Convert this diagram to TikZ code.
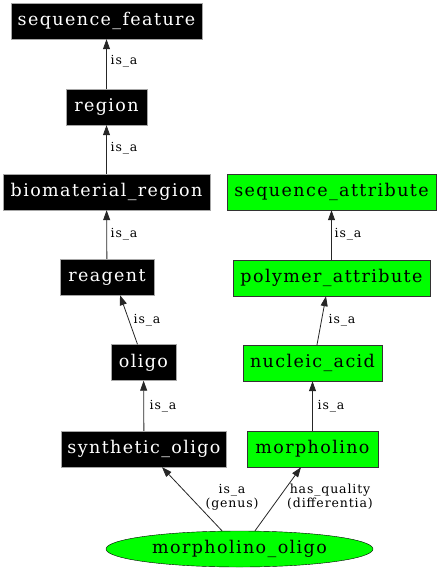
\documentclass[tikz,border=0pt]{standalone}
\usepackage{fontspec}
\setmainfont{DejaVu Serif}
\newfontfamily\gvfont[LetterSpace=8]{DejaVu Serif}
\newfontfamily\gvlfont[LetterSpace=7]{DejaVu Serif}
\usetikzlibrary{arrows.meta,shapes.geometric}
\definecolor{vgreen}{RGB}{0,255,0}
\tikzset{
  nfont/.style={font=\gvfont\fontsize{17.5}{20}\selectfont},
  blk/.style={rectangle,draw=gray!70,fill=black,text=white,inner sep=0pt,minimum height=36pt,nfont},
  grn/.style={rectangle,draw=black!80,fill=vgreen,text=black,inner sep=0pt,minimum height=36pt,nfont},
  ell/.style={ellipse,draw=black,fill=vgreen,inner sep=0pt,minimum height=36pt,nfont},
  edge/.style={draw=black!85,line width=0.8pt,-{Triangle[length=10pt,width=7pt]}},
  lbl/.style={font=\gvlfont\fontsize{12.5}{14}\selectfont,inner sep=0pt,align=center}
}
\begin{document}
\begin{tikzpicture}[x=1pt,y=-1pt]
\useasboundingbox (0,0) rectangle (440,576);
% left chain
\node[blk,minimum width=191pt] (sf) at (106.5,21) {sequence\_feature};
\node[blk,minimum width=81pt] (reg) at (106.5,107) {region};
\node[blk,minimum width=207pt] (bio) at (106.5,192) {biomaterial\_region};
\node[blk,minimum width=94pt] (rea) at (107,277) {reagent};
\node[blk,minimum width=65pt] (oli) at (143.5,362.5) {oligo};
\node[blk,minimum width=165pt] (syn) at (144,449) {synthetic\_oligo};
% right chain
\node[grn,minimum width=209pt] (sa) at (331.5,192) {sequence\_attribute};
\node[grn,minimum width=197pt] (pa) at (331.5,278) {polymer\_attribute};
\node[grn,minimum width=139pt] (na) at (312.5,363) {nucleic\_acid};
\node[grn,minimum width=131pt] (mo) at (312.5,449) {morpholino};
% bottom
\node[ell,minimum width=267pt] (mol) at (239.5,549) {morpholino\_oligo};
% edges
\draw[edge] (reg) -- (sf);
\draw[edge] (bio) -- (reg);
\draw[edge] (rea) -- (bio);
\draw[edge] ([xshift=-6pt]oli.north) -- ([xshift=13pt]rea.south);
\draw[edge] (syn) -- (oli);
\draw[edge] (pa) -- (sa);
\draw[edge] ([xshift=4.5pt]na.north) -- ([xshift=-5.5pt]pa.south);
\draw[edge] (mo) -- (na);
\draw[edge] ([xshift=-17.5pt]mol.north) -- ([xshift=18pt]syn.south);
\draw[edge] ([xshift=15.5pt]mol.north) -- ([xshift=-11.5pt]mo.south);
% labels
\node[lbl] (l1) at (124,61) {is\_a};
\node[lbl] (l2) at (124,148) {is\_a};
\node[lbl] (l3) at (124,234) {is\_a};
\node[lbl] (l4) at (147,320) {is\_a};
\node[lbl] (l5) at (163,406) {is\_a};
\node[lbl] (l6) at (348,234) {is\_a};
\node[lbl] (l7) at (342,320) {is\_a};
\node[lbl] (l8) at (331,406) {is\_a};
\node[lbl] (l9) at (232,497) {is\_a\\(genus)};
\node[lbl] (l10) at (330,497) {has\_quality\\(differentia)};
\end{tikzpicture}
\end{document}
